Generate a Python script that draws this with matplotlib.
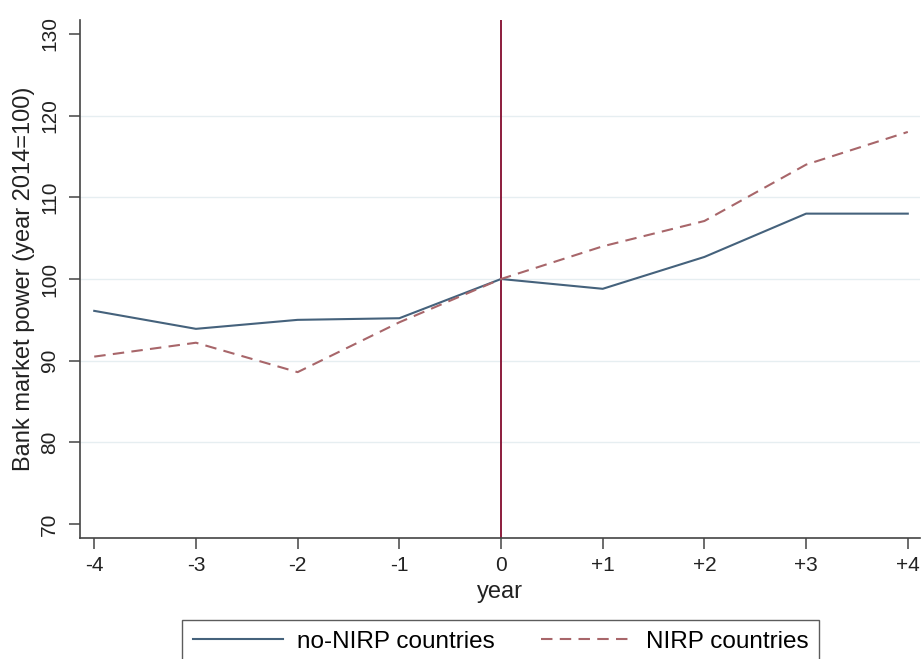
import matplotlib.pyplot as plt

plt.rcParams['font.family'] = ['Liberation Sans', 'DejaVu Sans']

# data
years = [-4, -3, -2, -1, 0, 1, 2, 3, 4]
year_labels = ['-4', '-3', '-2', '-1', '0', '+1', '+2', '+3', '+4']
no_nirp = [96.1, 93.9, 95.0, 95.2, 100.0, 98.8, 102.7, 108.0, 108.0]
nirp = [90.5, 92.2, 88.6, 94.7, 100.0, 104.0, 107.1, 114.0, 118.0]
y_ticks = [70, 80, 90, 100, 110, 120, 130]
grid_levels = [80, 90, 100, 110, 120]

fig = plt.figure(figsize=(9.23, 6.59), dpi=100)
ax = fig.add_axes([80/923, 1-538/659, 840/923, 518/659])

for g in grid_levels:
    ax.axhline(g, color='#e6eef1', lw=1.0, zorder=0)

ax.axvline(0, color='#8c1c3c', lw=1.4, zorder=1)

ax.plot(years, no_nirp, color='#45627c', lw=1.5, label='no-NIRP countries', zorder=3)
ax.plot(years, nirp, color='#a8666a', lw=1.5, dashes=(5.5, 3.5),
        label='NIRP countries', zorder=3)

ax.set_xlim(-4.14, 4.12)
ax.set_ylim(68.3, 131.7)
ax.set_xticks(years)
ax.set_xticklabels(year_labels, fontsize=15)
ax.set_yticks(y_ticks)
ax.set_yticklabels([str(t) for t in y_ticks], fontsize=15, rotation=90, va='center')

ax.spines['top'].set_visible(False)
ax.spines['right'].set_visible(False)
for s in ['left', 'bottom']:
    ax.spines[s].set_color('#444444')
    ax.spines[s].set_linewidth(1.2)
ax.tick_params(axis='both', length=8, width=1.1, color='#444444', colors='#222222')
ax.tick_params(axis='y', pad=7)
ax.tick_params(axis='x', pad=5)

ax.set_xlabel('year', fontsize=17, color='#222222', labelpad=4)
ax.set_ylabel('Bank market power (year 2014=100)', fontsize=17, color='#222222', labelpad=4)

leg = fig.legend(loc='upper left', bbox_to_anchor=(182/923, 1-620/659), ncol=2,
                 fontsize=17.5, frameon=True, fancybox=False, handlelength=3.7,
                 handletextpad=0.6, columnspacing=1.9, borderpad=0.45,
                 borderaxespad=0)
leg.get_frame().set_edgecolor('#333333')
leg.get_frame().set_linewidth(1.0)

fig.savefig('out.png', dpi=100)
